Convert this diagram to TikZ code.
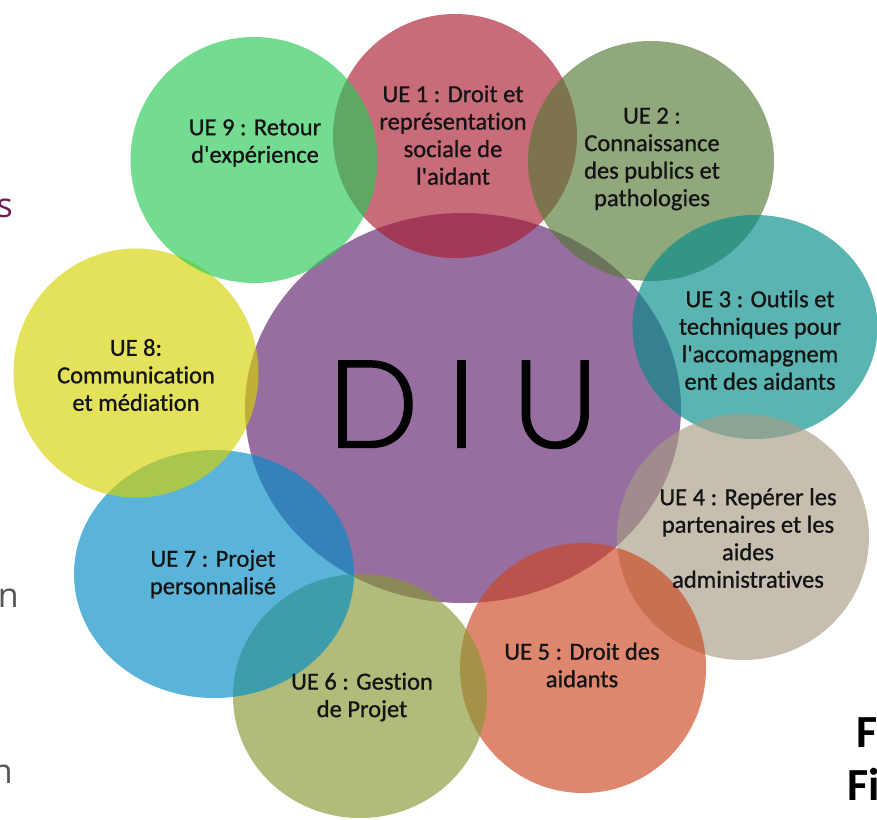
\documentclass[tikz,border=0pt]{standalone}
\usepackage{fontspec}
\usetikzlibrary{shapes.geometric}
\newfontfamily\uefont{Carlito}[Ligatures=NoCommon, RawFeature={embolden=0.9}]
\newfontfamily\figfont{Carlito}[Ligatures=NoCommon]
\IfFontExistsTF{Lato Light}{\newfontfamily\diufont{Lato Light}[RawFeature={embolden=2}]}{%
  \IfFontExistsTF{DejaVu Sans ExtraLight}{\newfontfamily\diufont{DejaVu Sans ExtraLight}[RawFeature={embolden=3}]}{\newfontfamily\diufont{DejaVu Sans}}}
\newfontfamily\edgefont{Open Sans}
\definecolor{cpurple}{RGB}{150,110,160}
\definecolor{cred}{RGB}{170,29,50}
\definecolor{colive}{RGB}{86,121,55}
\definecolor{cteal}{RGB}{1,140,137}
\definecolor{cbeige}{RGB}{167,155,132}
\definecolor{corange}{RGB}{204,70,32}
\definecolor{cyolive}{RGB}{136,152,50}
\definecolor{cblue}{RGB}{1,140,198}
\definecolor{cyellow}{RGB}{213,209,1}
\definecolor{cgreen}{RGB}{40,201,86}
\definecolor{cmaroon}{RGB}{110,30,80}
\definecolor{cgrey}{RGB}{85,85,85}
\definecolor{ctext}{RGB}{20,20,20}
\tikzset{
  disc/.style={ellipse, inner sep=0pt, outer sep=0pt, draw=none, fill opacity=0.65},
  uelabel/.style={font=\uefont\fontsize{24.5}{27.5}\selectfont, align=center, text=ctext, inner sep=0pt},
  edgetext/.style={font=\edgefont\fontsize{34}{34}\selectfont, inner sep=0pt, anchor=base east},
  figtext/.style={font=\figfont\bfseries\fontsize{46}{46}\selectfont, inner sep=0pt, anchor=base west, text=black}
}
\begin{document}
\begin{tikzpicture}[x=1pt,y=-1pt]
\useasboundingbox (0,0) rectangle (877,819);
% centre
\node[ellipse, inner sep=0pt, outer sep=0pt, fill=cpurple, minimum width=436pt, minimum height=390pt] (cdiu) at (463,408) {};
% outer discs
\node[disc, fill=cred,    minimum width=244pt, minimum height=244pt] (c1) at (455,136) {};
\node[disc, fill=colive,  minimum width=246pt, minimum height=240pt] (c2) at (651,161) {};
\node[disc, fill=cteal,   minimum width=245pt, minimum height=224pt] (c3) at (755,327) {};
\node[disc, fill=cbeige,  minimum width=252pt, minimum height=246pt] (c4) at (743,537) {};
\node[disc, fill=corange, minimum width=246pt, minimum height=250pt] (c5) at (583,668) {};
\node[disc, fill=cyolive, minimum width=254pt, minimum height=244pt] (c6) at (360,696) {};
\node[disc, fill=cblue,   minimum width=280pt, minimum height=248pt] (c7) at (214,574) {};
\node[disc, fill=cyellow, minimum width=245pt, minimum height=249pt] (c8) at (136,373) {};
\node[disc, fill=cgreen,  minimum width=247pt, minimum height=246pt] (c9) at (254,160) {};
% labels
\node[uelabel] (t1) at (453,135) {UE 1 : Droit et\\représentation\\sociale de\\l'aidant};
\node[uelabel] (t2) at (652,159) {UE 2 :\\Connaissance\\des publics et\\pathologies};
\node[uelabel] (t3) at (760,340) {UE 3 : Outils et\\techniques pour\\l'accomapgnem\\ent des aidants};
\node[uelabel] (t4) at (748,538) {UE 4 : Repérer les\\partenaires et les\\aides\\administratives};
\node[uelabel] (t5) at (582,665) {UE 5 : Droit des\\aidants};
\node[uelabel] (t6) at (362,697) {UE 6 : Gestion\\de Projet};
\node[uelabel] (t7) at (213,574) {UE 7 : Projet\\personnalisé};
\node[uelabel] (t8) at (136,375) {UE 8:\\Communication\\et médiation};
\node[uelabel] (t9) at (255,143) {UE 9 : Retour\\d'expérience};
% centre title
\node[font=\diufont\fontsize{121}{121}\selectfont, anchor=base, inner sep=0pt, text=black] (diu) at (463,447) {D\hspace{27pt}I\hspace{34pt}U};
% cut-off page text
\node[edgetext, text=cmaroon] (fs) at (13,217) {s};
\node[edgetext, text=cgrey] (fon) at (19,607) {on};
\node[edgetext, text=cgrey] (fn) at (13,783) {n};
\node[figtext] (ff1) at (856,747) {F};
\node[figtext] (ff2) at (847,800) {Fi};
\end{tikzpicture}
\end{document}
